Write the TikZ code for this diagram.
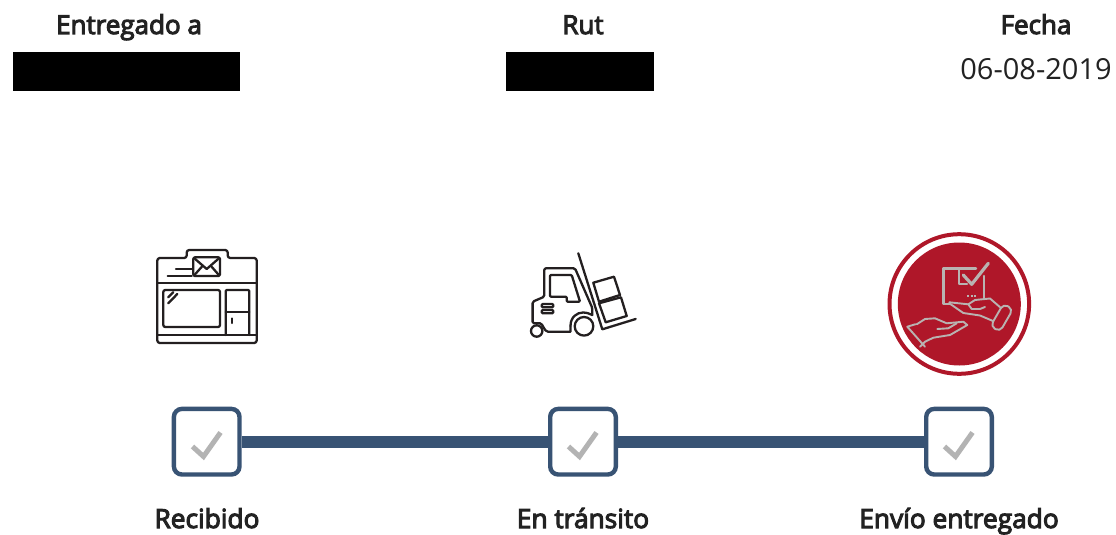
\documentclass[tikz,border=0pt]{standalone}
\usepackage{fontspec}
\setmainfont{Open Sans}
\newfontfamily\semib[FakeBold=4]{Open Sans}
\definecolor{barblue}{HTML}{385374}
\definecolor{checkgray}{HTML}{B3B3B3}
\definecolor{iconink}{HTML}{231F20}
\definecolor{seal}{HTML}{AF1729}
\definecolor{sealicon}{HTML}{B9B3B1}
\definecolor{txt}{HTML}{222222}
\tikzset{
  x=1pt,y=-1pt,
  head/.style={text=txt,font=\semib\fontsize{26}{30}\selectfont,inner sep=0pt,anchor=base},
  val/.style={text=txt,font=\fontsize{29}{34}\selectfont,inner sep=0pt,anchor=base},
  steplabel/.style={text=txt,font=\semib\fontsize{26.3}{30}\selectfont,inner sep=0pt,anchor=base},
  checkbox/.style={draw=barblue,line width=4.4pt,rounded corners=8pt,fill=white,minimum size=65.6pt,inner sep=0pt},
  tick/.style={draw=checkgray,line width=5pt},
  bar/.style={draw=barblue,line width=12pt},
  ink/.style={draw=iconink,line width=2.3pt,line join=round,line cap=round},
  sealink/.style={draw=sealicon,line width=1.9pt,line join=round,line cap=round},
  redact/.style={fill=black,draw=none}
}
\begin{document}
\begin{tikzpicture}
\useasboundingbox (0,0) rectangle (1116,535);
% header
\node[head] (h1) at (129,34) {Entregado a};
\node[head] (h2) at (583,34) {Rut};
\node[head] (h3) at (1036,34) {Fecha};
\node[val] (v3) at (1036,79) {06-08-2019};
\fill[redact] (13,52) rectangle (240,91);
\fill[redact] (506,52) rectangle (654,91);
% connectors and boxes
\node[checkbox] (c1) at (206.7,441.7) {};
\node[checkbox] (c2) at (583,441.7) {};
\node[checkbox] (c3) at (959,441.7) {};
\draw[bar] (c1) -- (c2);
\draw[bar] (c2) -- (c3);
\foreach \cx in {207,583,959}{
  \draw[tick] (\cx-14.5,446.5) -- (\cx-3.5,456.5) -- (\cx+13.5,432.5);
}
\node[steplabel] (l1) at (207,528) {Recibido};
\node[steplabel] (l2) at (583,528) {En tránsito};
\node[steplabel] (l3) at (959,528) {Envío entregado};
% store icon
\draw[ink,rounded corners=2.5pt] (157.3,343) -- (157.3,258) -- (186.7,258) -- (186.7,250) -- (227.7,250) -- (227.7,258) -- (256.7,258) -- (256.7,343) -- cycle;
\draw[ink] (157.3,283) -- (256.7,283);
\draw[ink] (157.3,335) -- (256.7,335);
\draw[ink,rounded corners=2pt] (163.3,290) rectangle (220,327);
\draw[ink,rounded corners=1pt] (225.7,335) -- (225.7,290) -- (249.3,290) -- (249.3,335);
\draw[ink] (225.7,311.7) -- (249.3,311.7);
\draw[ink] (231.7,318.5) -- (231.7,323);
\draw[ink,fill=white,rounded corners=1.5pt] (193.3,257.3) rectangle (220,276);
\draw[ink] (194,258) -- (206.7,269) -- (219.3,258);
\draw[ink] (194,275.5) -- (202.5,266);
\draw[ink] (219.3,275.5) -- (211,266);
\draw[ink] (176,269.3) -- (191.7,269.3);
\draw[ink] (167.7,276) -- (191.7,276);
\draw[ink] (168.3,297.3) -- (173.3,292.3);
\draw[ink] (168.3,303.3) -- (177.3,294);
% forklift icon
\draw[ink] (578.3,253.3) -- (602.3,329.3) -- (635.7,319);
\draw[ink] (593.3,282.7) -- (614,276.7) -- (620,295) -- (599,301.7) -- cycle;
\draw[ink] (599,303.3) -- (621,297.3) -- (626.7,316) -- (605.7,322.3) -- cycle;
\draw[ink,rounded corners=1.5pt] (540,323.3) -- (532.6,323.3) -- (532.6,301.7) -- (544.3,296.7) -- (544.3,268.3) -- (575,268.3) -- (592.3,308) -- (592.3,315);
\draw[ink] (540,323.3) .. controls (543,323.3) and (544,331.7) .. (548,331.7) -- (570.5,331.7) -- (570.5,326);
\draw[ink] (570.5,326) .. controls (570.5,317) and (577,312.5) .. (583,312.5) .. controls (587,312.5) and (590,314) .. (592.3,315);
\draw[ink,fill=white] (584,326.3) circle[radius=9.3];
\draw[ink,fill=white] (536.7,331) circle[radius=5.7];
\draw[ink,rounded corners=1pt] (550,275) -- (571.7,275) -- (580,301.7) -- (566.7,301.7) -- (566.7,296.7) -- (550,296.7) -- cycle;
\draw[ink,rounded corners=1pt] (541.7,304) rectangle (553.3,307.3);
\draw[ink,rounded corners=1pt] (541.7,310) rectangle (553.3,313.3);
% sealed delivered icon
\draw[seal,line width=4pt] (959.3,304) circle[radius=69.8];
\fill[seal] (959.3,304) circle[radius=61.5];
\draw[sealink,line width=2.4pt] (943.3,268.3) -- (976,268.3);
\draw[sealink,line width=2.4pt] (943.3,268.3) -- (943.3,304) -- (950,304);
\draw[sealink,line width=2.4pt] (984,276) -- (984,299);
\draw[sealink,line width=2.2pt] (959.3,269) -- (959.3,284.3) -- (967,284.3);
\draw[sealink,line width=3.2pt] (963.3,275) -- (971.7,284.3) -- (988.3,263.3);
\draw[sealink,line width=2.6pt,dash pattern=on 2.2pt off 1.4pt,line cap=butt] (967,296) -- (977.5,296);
% upper hand
\draw[sealink] (949.3,303.3) -- (963.3,313) -- (980,315.5) -- (993,321);
\draw[sealink] (949.3,302.3) -- (968.3,304.3) -- (975,300) -- (990,298.5) -- (1001,308);
\draw[sealink] (968.3,304.3) -- (971.7,309) -- (980,309) -- (985,307);
\draw[sealink,rounded corners=5pt,rotate around={60:(1001.7,317.7)}] (988.7,312.2) rectangle (1014.7,323.2);
% lower hand
\draw[sealink] (915.5,324.2) -- (907.3,326.7) -- (925,346.7);
\draw[sealink] (920,346.7) -- (925,341.7) -- (933.3,337.7) -- (950,335) -- (967.3,325) -- (963.3,321.7) -- (946.7,323.3) -- (935,318.3) -- (925,319) -- (916.7,324.3);
\draw[sealink] (937.3,329) -- (948.3,328.3) -- (956.7,323.3);
\fill[sealicon] (911.7,331.7) circle[radius=1];
\end{tikzpicture}
\end{document}
